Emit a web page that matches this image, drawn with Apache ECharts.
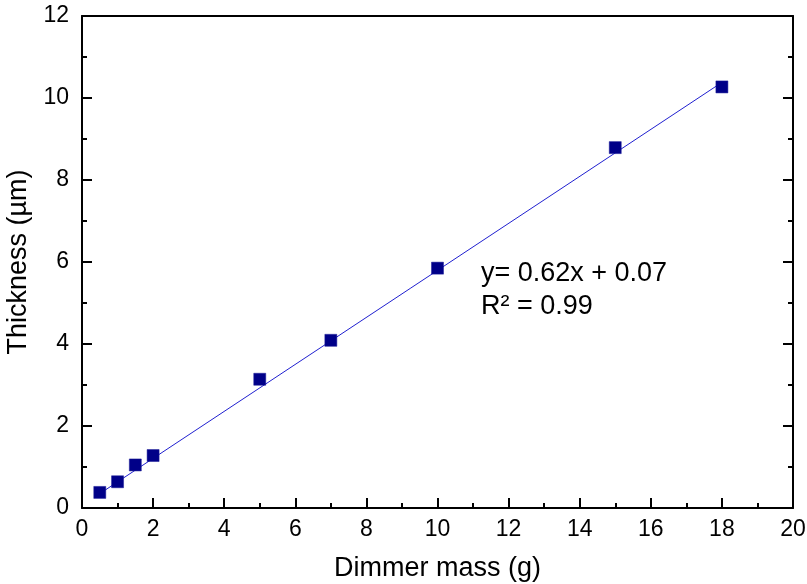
<!DOCTYPE html>
<html>
<head>
<meta charset="utf-8">
<script src="https://cdn.jsdelivr.net/npm/echarts@6/dist/echarts.min.js"></script>
<style>
  html, body { margin: 0; padding: 0; background: #fff; }
  #main { width: 807px; height: 584px; }
</style>
</head>
<body>
<div id="main"></div>
<script>
var chartDom = document.getElementById("main");
var myChart = echarts.init(chartDom);
var option;

// measured points
const massValues = [0.5, 1, 1.5, 2, 5, 7, 10, 15, 18];
const thicknessValues = [0.38, 0.64, 1.05, 1.28, 3.14, 4.09, 5.85, 8.79, 10.27];
// fitted line ends, as drawn
const fitX = [0.5, 18];
const fitY = [0.35, 10.38];
const fitLabel = ["y= 0.62x + 0.07", "R\u00b2 = 0.99"];

const font = "Liberation Sans, Arial, sans-serif";
const black = { color: "#000", width: 2 };
const axisLine = { show: true, onZero: false, lineStyle: black };
const tick = { inside: true, length: 10, lineStyle: black };
const minor = { show: true, splitNumber: 2, length: 5, lineStyle: black };

// keep the plot box fixed, labels may sit outside it
const grid = { left: 82, right: 14, top: 16, bottom: 76, outerBoundsMode: "none", containLabel: false };

option = {
  backgroundColor: "#fff",
  animation: false,
  grid,
  xAxis: [
    {
      type: "value",
      min: 0,
      max: 20,
      interval: 2,
      name: "Dimmer mass (g)",
      nameLocation: "middle",
      nameGap: 47,
      nameTextStyle: { fontFamily: font, fontSize: 27, color: "#000" },
      axisLine,
      axisTick: tick,
      minorTick: minor,
      axisLabel: { fontFamily: font, fontSize: 23, color: "#000", margin: 10 },
      splitLine: { show: false },
    },
    {
      type: "value",
      position: "top",
      min: 0,
      max: 20,
      axisLine,
      axisTick: { show: false },
      axisLabel: { show: false },
      splitLine: { show: false },
    },
  ],
  yAxis: [
    {
      type: "value",
      min: 0,
      max: 12,
      interval: 2,
      name: "Thickness (\u00b5m)",
      nameLocation: "middle",
      nameGap: 42,
      nameTextStyle: { fontFamily: font, fontSize: 27, color: "#000" },
      axisLine,
      axisTick: tick,
      minorTick: minor,
      axisLabel: { fontFamily: font, fontSize: 23, color: "#000", margin: 13 },
      splitLine: { show: false },
    },
    {
      type: "value",
      position: "right",
      min: 0,
      max: 12,
      interval: 2,
      axisLine,
      axisTick: tick,
      minorTick: minor,
      axisLabel: { show: false },
      splitLine: { show: false },
    },
  ],
  series: [
    {
      name: "fit",
      type: "line",
      data: fitX.map((x, i) => [x, fitY[i]]),
      showSymbol: false,
      lineStyle: { color: "#2020d0", width: 1 },
      z: 2,
    },
    {
      name: "data",
      type: "scatter",
      data: massValues.map((x, i) => [x, thicknessValues[i]]),
      symbol: "rect",
      symbolSize: 12,
      itemStyle: { color: "#000088", borderColor: "#1a1a99", borderWidth: 0.5, opacity: 1 },
      z: 3,
    },
  ],
  graphic: {
    elements: [
      {
        type: "text",
        left: 481,
        top: 257,
        style: {
          text: fitLabel.join("\n"),
          font: "27px " + font,
          fill: "#000",
          lineHeight: 33,
        },
      },
    ],
  },
};

option && myChart.setOption(option);
</script>
</body>
</html>
